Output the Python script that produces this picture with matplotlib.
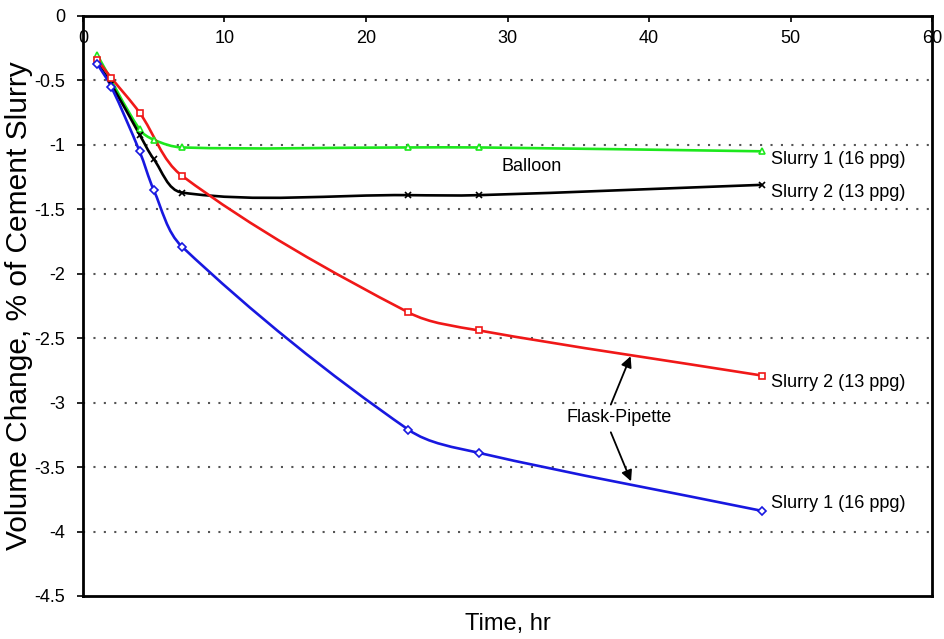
import matplotlib
matplotlib.use("Agg")
import numpy as np
import matplotlib.pyplot as plt
from matplotlib.path import Path
from matplotlib.patches import PathPatch

plt.rcParams['font.family'] = ['Liberation Sans', 'DejaVu Sans']

# Data (time in hr, volume change in %)
balloon_s1_t = [1, 4, 5, 7, 23, 28, 48]
balloon_s1_v = [-0.30, -0.88, -0.96, -1.02, -1.02, -1.02, -1.05]

balloon_s2_t = [1, 2, 4, 5, 7, 23, 28, 48]
balloon_s2_v = [-0.36, -0.53, -0.92, -1.11, -1.37, -1.39, -1.39, -1.31]

flask_s2_t = [1, 2, 4, 7, 23, 28, 48]
flask_s2_v = [-0.34, -0.48, -0.75, -1.24, -2.30, -2.44, -2.79]

flask_s1_t = [1, 2, 4, 5, 7, 23, 28, 48]
flask_s1_v = [-0.37, -0.55, -1.05, -1.35, -1.79, -3.21, -3.39, -3.84]

x_ticks = [0, 10, 20, 30, 40, 50, 60]
y_ticks = [0, -0.5, -1, -1.5, -2, -2.5, -3, -3.5, -4, -4.5]
y_tick_labels = ['0', '-0.5', '-1', '-1.5', '-2', '-2.5', '-3', '-3.5', '-4', '-4.5']

fig = plt.figure(figsize=(9.45, 6.39), dpi=100)
ax = fig.add_axes([0.0878, 0.0673, 0.8985, 0.9077])
ax.set_xlim(0, 60)
ax.set_ylim(-4.5, 0)


def smooth_path(xs, ys):
    # smoothed line drawn as Bezier segments through the data points,
    # control points computed in display space (no loops)
    pts = ax.transData.transform(np.column_stack([xs, ys]))
    n = len(pts)
    tang = []
    for i in range(n):
        a = pts[max(i - 1, 0)]
        b = pts[min(i + 1, n - 1)]
        d = b - a
        tang.append(d / np.hypot(*d))
    verts = [tuple(pts[0])]
    codes = [Path.MOVETO]
    for i in range(n - 1):
        L = np.hypot(*(pts[i + 1] - pts[i]))
        c1 = pts[i] + tang[i] * L / 3
        c2 = pts[i + 1] - tang[i + 1] * L / 3
        verts += [tuple(c1), tuple(c2), tuple(pts[i + 1])]
        codes += [Path.CURVE4] * 3
    dv = ax.transData.inverted().transform(np.array(verts))
    return Path(dv, codes)


series = [
    (balloon_s1_t, balloon_s1_v, '#1de81d', '^'),
    (balloon_s2_t, balloon_s2_v, '#000000', 'x'),
    (flask_s2_t, flask_s2_v, '#f01818', 's'),
    (flask_s1_t, flask_s1_v, '#1818e0', 'D'),
]
for t, v, c, m in series:
    ax.add_patch(PathPatch(smooth_path(t, v), facecolor='none', edgecolor=c,
                           lw=1.9, zorder=3))
    ax.plot(t, v, linestyle='none', marker=m, color=c, markerfacecolor='white',
            markeredgecolor=c, markersize=5 if m != 'D' else 4,
            markeredgewidth=1.2, zorder=4)

ax.set_xticks(x_ticks)
ax.set_yticks(y_ticks)
ax.set_yticklabels(y_tick_labels)

ax.xaxis.tick_top()
ax.tick_params(axis='x', direction='in', length=4, width=1.2, pad=-22,
               labelsize=13, top=True, bottom=False)
ax.tick_params(axis='y', direction='out', length=4, width=1.2, pad=9,
               labelsize=13)

for y in y_ticks[1:-1]:
    ax.axhline(y, color='#555555', linestyle=(0, (1, 4)), lw=1.5, zorder=1)

for s in ax.spines.values():
    s.set_linewidth(2.0)

ax.set_xlabel('Time, hr', fontsize=17, labelpad=12)
ax.set_ylabel('Volume Change, % of Cement Slurry', fontsize=21.5, labelpad=1)

fs = 13
ax.text(31.7, -1.165, 'Balloon', fontsize=fs, ha='center', va='center')
ax.text(48.6, -1.115, 'Slurry 1 (16 ppg)', fontsize=fs, ha='left', va='center')
ax.text(48.6, -1.37, 'Slurry 2 (13 ppg)', fontsize=fs, ha='left', va='center')
ax.text(48.6, -2.84, 'Slurry 2 (13 ppg)', fontsize=fs, ha='left', va='center')
ax.text(48.6, -3.78, 'Slurry 1 (16 ppg)', fontsize=fs, ha='left', va='center')

ax.text(37.9, -3.118, 'Flask-Pipette', fontsize=13, ha='center', va='center')
arrow_kw = dict(arrowstyle='-|>', color='black', lw=1.3, mutation_scale=16,
                shrinkA=0, shrinkB=0)
ax.annotate('', xy=(38.7, -2.64), xytext=(37.3, -3.015), arrowprops=arrow_kw)
ax.annotate('', xy=(38.73, -3.61), xytext=(37.3, -3.23), arrowprops=arrow_kw)

fig.savefig('out.png', dpi=100)
